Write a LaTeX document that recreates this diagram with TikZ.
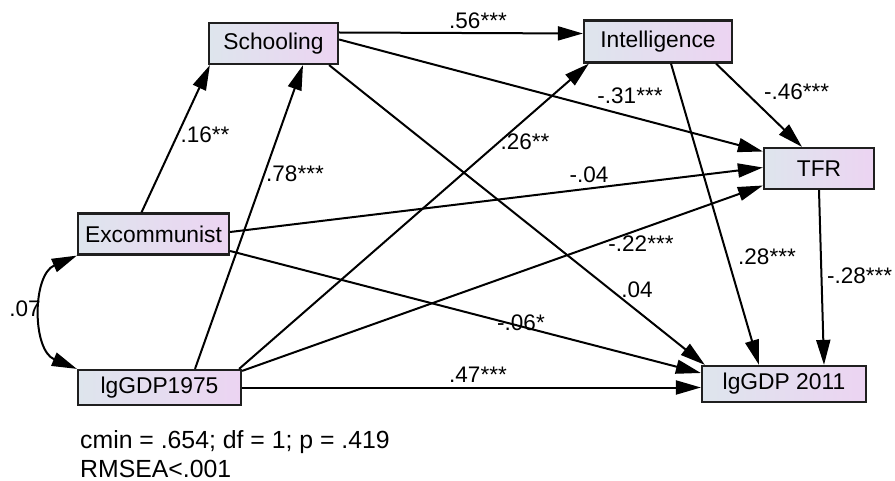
\documentclass[tikz,border=0pt]{standalone}
\usepackage{fontspec}
\setmainfont{Liberation Sans}
\usetikzlibrary{arrows.meta,calc}
\definecolor{boxl}{RGB}{222,229,237}
\definecolor{boxr}{RGB}{236,212,242}
\begin{document}
\begin{tikzpicture}[x=1pt,y=-1pt,
  box/.style={draw=black!88,line width=2.2pt,left color=boxl,right color=boxr,inner sep=0pt,font=\fontsize{22.8}{26}\selectfont},
  pth/.style={line width=2pt,-{Triangle[length=25pt,width=14pt]}},
  cov/.style={line width=2pt,{Triangle[length=25pt,width=14pt]}-{Triangle[length=25pt,width=14pt]}},
  lab/.style={font=\fontsize{22.5}{26}\selectfont,inner sep=0pt},
  fit/.style={font=\fontsize{24.8}{30}\selectfont,inner sep=0pt,anchor=base west}]
\useasboundingbox (0,0) rectangle (895,481);
\fill[white] (0,0) rectangle (895,481);
% boxes
\node[box,minimum width=129pt,minimum height=41pt] (sch) at (273.5,43.5) {Schooling};
\node[box,minimum width=148pt,minimum height=42pt] (int) at (658,41.5) {Intelligence};
\node[box,minimum width=110pt,minimum height=41pt] (tfr) at (819,168.5) {TFR};
\node[box,minimum width=151pt,minimum height=41pt] (exc) at (153.5,234) {Excommunist};
\node[box,minimum width=163pt,minimum height=35pt] (g75) at (159.5,387.5) {lgGDP1975};
\node[box,minimum width=164pt,minimum height=36pt] (g11) at (784,384) {lgGDP 2011};
% paths
\draw[pth] ($(sch.east)+(0,-11)$) -- ($(int.west)+(0,-8)$);
\draw[pth] ($(sch.east)+(0,-4)$) -- ($(tfr.west)+(0,-17)$);
\draw[pth] ($(sch.south east)+(-10,0)$) -- ($(g11.north west)+(4,0)$);
\draw[pth] ($(exc.north)+(-12,0)$) -- ($(sch.south west)+(2,0)$);
\draw[pth] ($(g75.north)+(35.5,0)$) -- ($(sch.south)+(29.5,0)$);
\draw[pth] ($(g75.north east)+(-3,0)$) -- ($(int.south west)+(6,0)$);
\draw[pth] ($(g75.north east)+(0,2)$) -- ($(tfr.west)+(0,17)$);
\draw[pth] ($(exc.east)+(0,-2)$) -- ($(tfr.west)+(0,-1)$);
\draw[pth] ($(exc.east)+(0,17)$) -- ($(g11.west)+(0,-11)$);
\draw[pth] (g75.east) -- (g75.east -| g11.west);
\draw[pth] ($(int.south)+(58,0)$) -- ($(tfr.north)+(-17,0)$);
\draw[pth] ($(int.south)+(13,0)$) -- ($(g11.north)+(-25,0)$);
\draw[pth] (tfr.south) -- ($(g11.north)+(40,0)$);
\draw[cov] (exc.south west) .. controls (32,275) and (32,350) .. (g75.north west);
% labels
\node[lab] (l1) at (478,21) {.56***};
\node[lab] (l2) at (630,96) {-.31***};
\node[lab,anchor=west] (l3) at (764,92) {-.46***};
\node[lab] (l4) at (589,175) {-.04};
\node[lab] (l5) at (205,135) {.16**};
\node[lab] (l6) at (295,174) {.78***};
\node[lab] (l7) at (525,142) {.26**};
\node[lab] (l8) at (641,244) {-.22***};
\node[lab] (l9) at (767,257) {.28***};
\node[lab] (l10) at (637,290) {.04};
\node[lab,anchor=west] (l11) at (827,276) {-.28***};
\node[lab] (l12) at (521,323) {-.06*};
\node[lab] (l13) at (478,375) {.47***};
\node[lab] (l14) at (25,309) {.07};
% fit
\node[fit] (f1) at (80,448) {cmin = .654; df = 1; p = .419};
\node[fit] (f2) at (80,477) {RMSEA<.001};
\end{tikzpicture}
\end{document}
